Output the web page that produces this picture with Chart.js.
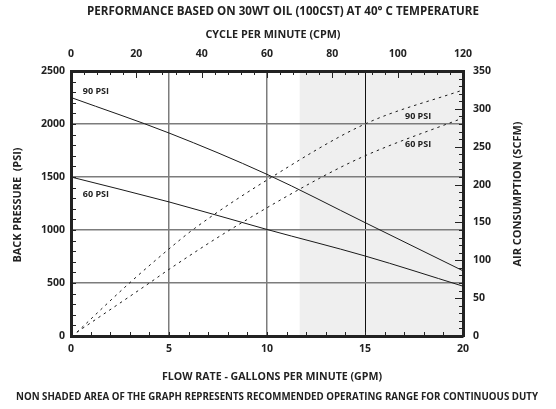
<!DOCTYPE html>
<html>
<head>
<meta charset="utf-8">
<script src="https://cdn.jsdelivr.net/npm/chart.js@4.4.1/dist/chart.umd.min.js"></script>
<style>
  html, body { margin: 0; padding: 0; background: #fff; }
  #wrap { width: 556px; height: 409px; position: relative; }
</style>
</head>
<body>
<div id="wrap"><canvas id="myChart" width="556" height="409"></canvas></div>
<script>
// back pressure curves (PSI) vs flow rate (GPM)
const pressureFlow = [0, 5, 10, 15, 20];
const pressure90 = [2250, 1915, 1525, 1070, 615];
const pressure60 = [1500, 1265, 1005, 755, 470];

// air consumption curves (SCFM) vs flow rate (GPM)
const airFlow90 = [0.3, 2.9, 5, 6.3, 10.25, 15, 20];
const air90 = [5, 68, 115, 142, 210, 280, 325];
const airFlow60 = [0.3, 4, 5, 8.1, 12.8, 15, 20];
const air60 = [5, 70, 88, 140, 210, 238, 288];

// axis tick values
const flowTicks = [0, 5, 10, 15, 20];
const cpmTicks = [0, 20, 40, 60, 80, 100, 120];
const psiTicks = [0, 500, 1000, 1500, 2000, 2500];
const scfmTicks = [0, 50, 100, 150, 200, 250, 300, 350];

// shaded (non continuous duty) area starts at 70 CPM
const shadeStartCpm = 70;

const FONT = '"Open Sans", "DejaVu Sans", sans-serif';

function toPoints(xs, ys) {
    return xs.map((x, i) => ({ x: x, y: ys[i] }));
}

// draw text centred at (x, y), squeezed or stretched to a given width
function fitText(ctx, text, x, y, width, size, family, angle) {
    ctx.save();
    ctx.font = 'bold ' + size + 'px ' + family;
    const w = ctx.measureText(text).width;
    ctx.translate(x, y);
    if (angle) ctx.rotate(angle);
    ctx.scale(width / w, 1);
    ctx.textAlign = 'center';
    ctx.textBaseline = 'middle';
    ctx.fillText(text, 0, 0);
    ctx.restore();
}

// shaded area behind the grid
const shadePlugin = {
    id: 'shade',
    beforeDraw(chart) {
        const ctx = chart.ctx;
        const a = chart.chartArea;
        const x0 = chart.scales.x2.getPixelForValue(shadeStartCpm);
        ctx.save();
        ctx.fillStyle = '#efefef';
        ctx.fillRect(x0, a.top, a.right - x0, a.bottom - a.top);
        ctx.restore();
    }
};

// small inward tick marks on all four sides + texts
const decoPlugin = {
    id: 'deco',
    afterDraw(chart) {
        const ctx = chart.ctx;
        const a = chart.chartArea;
        const s = chart.scales;
        ctx.save();
        ctx.strokeStyle = '#222';
        ctx.lineWidth = 1;
        ctx.beginPath();
        for (let v = 100; v < 2500; v += 100) {
            const y = Math.round(s.y.getPixelForValue(v)) + 0.5;
            ctx.moveTo(a.left, y); ctx.lineTo(a.left + 5, y);
        }
        for (let v = 10; v < 350; v += 10) {
            const y = Math.round(s.y2.getPixelForValue(v)) + 0.5;
            const len = v % 50 === 0 ? 8 : 4;
            ctx.moveTo(a.right, y); ctx.lineTo(a.right - len, y);
        }
        for (let v = 1; v < 20; v++) {
            const x = Math.round(s.x.getPixelForValue(v)) + 0.5;
            ctx.moveTo(x, a.bottom); ctx.lineTo(x, a.bottom - 4);
        }
        for (let v = 4; v < 120; v += 4) {
            const x = Math.round(s.x2.getPixelForValue(v)) + 0.5;
            const len = v % 20 === 0 ? 7 : 4;
            ctx.moveTo(x, a.top); ctx.lineTo(x, a.top + len);
        }
        ctx.stroke();

        // curve labels
        ctx.fillStyle = '#222';
        ctx.font = 'bold 9px ' + FONT;
        ctx.textBaseline = 'middle';
        ctx.textAlign = 'left';
        ctx.fillText('90 PSI', s.x.getPixelForValue(0.6), s.y.getPixelForValue(2310));
        ctx.fillText('60 PSI', s.x.getPixelForValue(0.6), s.y.getPixelForValue(1334));
        ctx.fillText('90 PSI', s.x.getPixelForValue(17.04), s.y2.getPixelForValue(290));
        ctx.fillText('60 PSI', s.x.getPixelForValue(17.04), s.y2.getPixelForValue(253));
        ctx.restore();

        // titles
        ctx.save();
        ctx.fillStyle = '#222';
        fitText(ctx, 'PERFORMANCE BASED ON 30WT OIL (100CST) AT 40\u00B0 C TEMPERATURE', 283, 12, 392, 11.5, FONT);
        fitText(ctx, 'CYCLE PER MINUTE (CPM)', 273, 35, 135, 10.5, FONT);
        fitText(ctx, 'FLOW RATE - GALLONS PER MINUTE (GPM)', 272, 377, 220, 10.5, FONT);
        fitText(ctx, 'NON SHADED AREA OF THE GRAPH REPRESENTS RECOMMENDED OPERATING RANGE FOR CONTINUOUS DUTY', 277, 397, 522, 10.5, FONT);
        fitText(ctx, 'BACK PRESSURE  (PSI)', 18, 205, 115, 10.5, FONT, -Math.PI / 2);
        fitText(ctx, 'AIR CONSUMPTION (SCFM)', 518, 194, 145, 10.5, FONT, -Math.PI / 2);
        ctx.restore();
    }
};

const tickFont = { family: FONT, size: 10.5, weight: 'bold' };
const axisBorder = { display: true, color: '#222', width: 3 };
const plain = v => String(v);

const ctx = document.getElementById('myChart').getContext('2d');
const chart = new Chart(ctx, {
    type: 'scatter',
    data: {
        datasets: [
            { label: 'Back pressure 90 PSI', data: toPoints(pressureFlow, pressure90), xAxisID: 'x', yAxisID: 'y' },
            { label: 'Back pressure 60 PSI', data: toPoints(pressureFlow, pressure60), xAxisID: 'x', yAxisID: 'y' },
            { label: 'Air consumption 90 PSI', data: toPoints(airFlow90, air90), xAxisID: 'x', yAxisID: 'y2', borderDash: [2.5, 4] },
            { label: 'Air consumption 60 PSI', data: toPoints(airFlow60, air60), xAxisID: 'x', yAxisID: 'y2', borderDash: [2.5, 4] }
        ].map(d => Object.assign({
            showLine: true,
            borderColor: '#1a1a1a',
            borderWidth: 1,
            pointRadius: 0,
            cubicInterpolationMode: 'monotone'
        }, d))
    },
    options: {
        responsive: false,
        animation: false,
        devicePixelRatio: 1,
        layout: { padding: 0 },
        plugins: {
            legend: { display: false },
            tooltip: { enabled: false }
        },
        scales: {
            x: {
                type: 'linear', position: 'bottom', min: 0, max: 20,
                afterBuildTicks: s => { s.ticks = flowTicks.map(v => ({ value: v })); },
                afterFit: s => { s.height = 73; },
                ticks: { color: '#222', font: tickFont, padding: 7, callback: plain },
                grid: {
                    drawTicks: false,
                    lineWidth: c => c.tick.value === 15 ? 1 : 1.5,
                    color: c => (c.tick.value === 0 || c.tick.value === 20) ? 'rgba(0,0,0,0)' : (c.tick.value === 15 ? '#111' : '#7c7c7c')
                },
                border: axisBorder
            },
            x2: {
                type: 'linear', position: 'top', min: 0, max: 120,
                afterBuildTicks: s => { s.ticks = cpmTicks.map(v => ({ value: v })); },
                afterFit: s => { s.height = 71; },
                ticks: { color: '#222', font: tickFont, padding: 11, callback: plain },
                grid: { display: false, drawTicks: false },
                border: axisBorder
            },
            y: {
                type: 'linear', position: 'left', min: 0, max: 2500,
                afterBuildTicks: s => { s.ticks = psiTicks.map(v => ({ value: v })); },
                afterFit: s => { s.width = 71; },
                ticks: { color: '#222', font: tickFont, padding: 6, callback: plain },
                grid: {
                    drawTicks: false, lineWidth: 1.5,
                    color: c => (c.tick.value === 0 || c.tick.value === 2500) ? 'rgba(0,0,0,0)' : '#7c7c7c'
                },
                border: axisBorder
            },
            y2: {
                type: 'linear', position: 'right', min: 0, max: 350,
                afterBuildTicks: s => { s.ticks = scfmTicks.map(v => ({ value: v })); },
                afterFit: s => { s.width = 93; },
                ticks: { color: '#222', font: tickFont, padding: 10, callback: plain },
                grid: { display: false, drawTicks: false },
                border: axisBorder
            }
        }
    },
    plugins: [shadePlugin, decoPlugin]
});
</script>
</body>
</html>
